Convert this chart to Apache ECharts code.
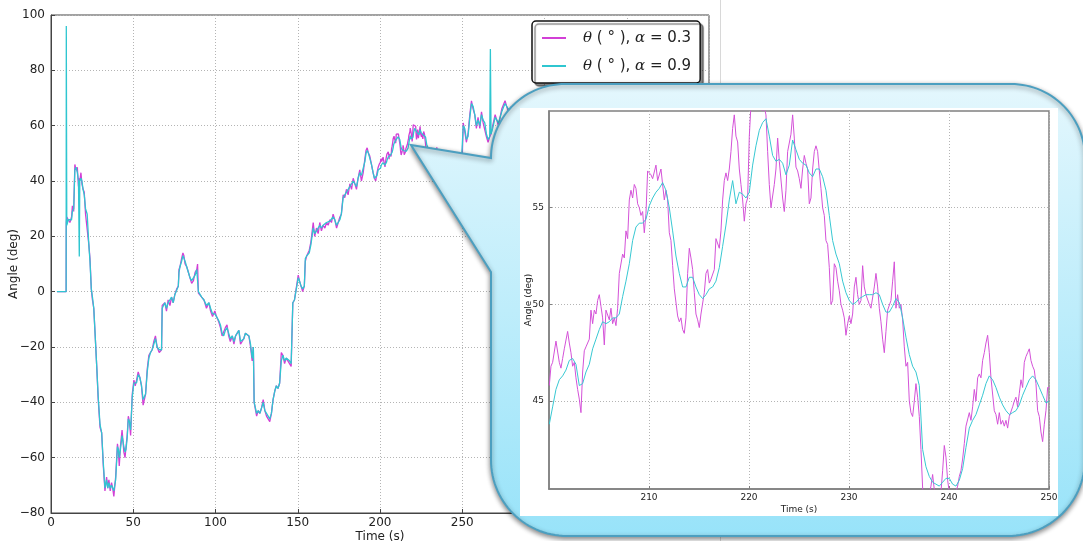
<!DOCTYPE html>
<html><head><meta charset="utf-8">
<script src="https://cdn.jsdelivr.net/npm/echarts@6/dist/echarts.min.js"></script>
<style>html,body{margin:0;padding:0;background:#fff}#c{width:1083px;height:541px}</style>
</head><body><div id="c"></div><script>
// ---------- DATA ----------
const seriesNames = ['θ (°), α = 0.3', 'θ (°), α = 0.9'];
const legendTexts = ['0.3', '0.9'];

// main chart samples (outside 200-250 s window)
const mainTime = [
  3.6, 9.2, 9.3, 9.6, 10.5, 11.5, 12.5, 13, 13.8, 14.5,
  15.2, 16, 16.7, 17.2, 17.5, 18.2, 18.8, 19.5, 20.2, 21,
  22, 23, 23.7, 24.5, 25.2, 26, 26.7, 27.8, 28.7, 29.8,
  30.8, 31.8, 32.8, 33.8, 34.5, 35.2, 36, 36.8, 37.5, 38.2,
  39.3, 40.4, 41, 41.5, 42.2, 43.2, 44.3, 45, 45.6, 46.3,
  47, 47.7, 48.4, 49.4, 50.4, 51.2, 52, 53, 54, 55,
  56, 57.5, 58.5, 59.5, 60.5, 61.5, 62.5, 63.5, 64.5, 65.8,
  67.2, 67.6, 68.4, 69.2, 70.2, 71.2, 72.3, 73.3, 74.3, 75.3,
  76.4, 77.4, 77.8, 78.4, 79.4, 80.2, 80.8, 81.5, 82.5, 83.5,
  84.5, 85.5, 86.6, 87.6, 88.6, 89.1, 89.6, 90.6, 91.6, 93,
  94.5, 96, 97, 98.2, 99.6, 100.6, 102, 103, 104, 105,
  106, 107, 108, 109, 110.2, 111.2, 112.2, 113.2, 114.2, 115.2,
  116.2, 117.2, 118.2, 119.3, 120.3, 121.3, 122.3, 123, 123.5, 125,
  126, 127, 128, 129, 130, 131, 132, 133, 134, 135,
  136, 137, 138, 139, 140, 141, 142, 143, 144, 145,
  146, 147, 148, 149, 150.3, 151, 152, 153, 154, 154.6,
  155.5, 157, 158, 159.4, 160.3, 161.4, 162.4, 163.4, 164.4, 165.4,
  166.5, 167.5, 168.5, 169.5, 170.5, 171.5, 172.5, 173.6, 174.6, 175.6,
  176.5, 177.6, 178.6, 179.6, 180.6, 181.7, 182.7, 183.7, 184.7, 185.7,
  186.7, 187.7, 188.7, 189.8, 190.8, 191.5, 192.2, 193, 193.8, 194.8,
  195.8, 196.6, 197.4, 198.2, 198.9, 199.5,
  250.4, 250.6, 251.5, 252.5, 253.5, 254.6, 255.6, 256.6, 257.6, 258.6,
  259.6, 260.7, 261.7, 262.7, 263.7, 264.7, 265.7, 266.7, 267.1, 267.5,
  268.5, 270, 272, 274, 276, 278, 280
];
const mainThetaA03 = [
  0, 0, 25, 27, 26, 25, 27, 31, 29, 46,
  44, 45, 38, 41, 40, 43, 39, 37, 36, 28,
  28, 17, 12, 1, -3, -6, -14, -27, -39, -49,
  -51, -63, -72, -67, -71, -68, -72, -69, -71, -74,
  -67, -55, -58, -63, -56, -50, -58, -60, -56, -52,
  -45, -47, -52, -37, -32, -34, -32, -29, -31, -34,
  -41, -37, -28, -23, -22, -21, -18, -16, -20, -22,
  -21, -5, -5, -4, -7, -3, -5, -2, -4, -1,
  1, 2, 8, 9, 12, 14, 13, 10, 9, 7,
  5, 3, 4, 7, 8, 10, -0.5, -1, -2, -3,
  -6, -4, -7, -9, -7, -9, -11, -13, -16, -16,
  -13, -12, -16, -18, -16, -19, -16, -15, -14, -19,
  -18, -17, -15, -15, -16, -20, -25, -20, -40, -45,
  -43, -44, -42, -39, -43, -45, -45, -47, -44, -39,
  -36, -34, -35, -33, -22, -23, -26, -24, -25, -25,
  -27, -4, -3, -3, 6, 4, 2, 0, 2, 11,
  13, 15, 18, 25, 20, 23, 21, 25, 22, 24,
  23, 25, 24, 26, 25, 28, 26, 23, 25, 27,
  28, 35, 34, 37, 35, 39, 37, 41, 39, 37,
  41, 44, 40, 43, 48, 51, 52, 50, 49, 46,
  43, 41, 40, 43, 45, 46,
  46, 61, 58, 54, 57, 64, 69, 66, 64, 59,
  63, 59, 65, 61, 61, 56, 54, 56, 56, 57,
  60, 64, 60, 66, 69, 65, 67
];
const mainThetaA09 = [
  0, 0, 96, 24, 26, 25.5, 26, 29, 30, 44,
  45, 43, 40, 12.7, 40, 41, 40, 37, 35, 30,
  28, 17, 11, 1, -2, -6, -14, -27, -38, -48,
  -51, -62, -71, -68, -71, -69, -71, -70, -71, -72,
  -68, -56, -57, -60, -57, -52, -56, -58, -57, -53,
  -46, -47, -50, -38, -33, -33, -33, -30, -31, -34,
  -39, -37, -29, -24, -22, -21, -19, -17, -20, -21,
  -21, -6, -5, -4, -6, -4, -4, -2, -4, -1,
  0.5, 2, 7, 9, 11, 13, 13, 11, 9, 7,
  5, 4, 4, 6, 8, 8.5, 0, -1, -2, -3,
  -5, -4, -6, -8, -8, -9, -10.5, -12, -15, -16,
  -14, -13, -15, -17, -16, -18, -16, -15, -14, -18,
  -18, -17, -15, -15, -16, -19, -24, -20, -40, -44,
  -43, -44, -42, -40, -43, -44, -45, -46, -44, -39,
  -36, -34, -35, -33, -25, -23, -25, -24, -24, -25,
  -26, -4, -3, -3.5, 5, 4, 2, 1, 2, 12,
  13, 14, 17, 23, 21, 22, 22, 24, 23, 24,
  23.5, 25, 24.5, 25.5, 25.5, 27, 26, 24, 25, 26,
  28, 34, 34, 36, 36, 38, 38, 40, 39, 38,
  41, 43, 42, 42, 47, 50, 51, 50, 49.5, 46,
  43, 41, 40.5, 42, 44, 44,
  46, 60, 59, 55, 56, 63, 68, 67, 64, 60,
  62, 60, 64, 62, 61, 57, 55, 56, 87.7, 57,
  59, 63, 61, 65, 68, 66, 66
];

// zoomed window 200-250 s (sampled every 1/6 s for alpha=0.3, 1/3 s for alpha=0.9)
const zoomStart = 200.03;
const zoomStepA03 = 1 / 6;
const zoomStepA09 = 1 / 3;
const zoomThetaA03 = [
  45.8, 46.8, 47.0, 47.1, 48.1, 48.0, 47.0, 46.7, 47.2, 47.7,
  47.8, 48.6, 48.0, 47.5, 46.8, 47.0, 46.2, 45.6, 45.1, 44.4,
  46.5, 47.6, 47.8, 47.9, 48.2, 49.7, 49.0, 49.7, 49.5, 50.2,
  50.5, 49.9, 49.3, 47.9, 49.7, 49.6, 49.2, 49.8, 49.0, 49.3,
  48.9, 49.8, 51.6, 51.6, 52.6, 52.4, 53.8, 53.4, 55.4, 55.9,
  55.5, 56.2, 56.0, 55.2, 55.0, 54.6, 54.8, 53.7, 54.7, 56.9,
  57.0, 56.7, 56.5, 56.6, 57.2, 56.4, 56.3, 57.0, 56.9, 55.4,
  55.9, 55.4, 53.7, 53.3, 52.0, 50.8, 50.9, 49.4, 49.1, 49.3,
  48.7, 48.5, 49.3, 51.6, 52.9, 52.4, 51.8, 50.6, 49.5, 49.2,
  48.8, 49.5, 49.6, 50.6, 51.6, 51.8, 51.1, 51.3, 51.2, 51.8,
  53.4, 53.5, 52.9, 53.8, 55.4, 56.4, 56.8, 56.4, 57.0, 57.9,
  59.1, 59.8, 58.7, 58.4, 57.0, 56.2, 55.4, 54.3, 55.2, 55.5,
  58.7, 60.3, 61.0, 61.2, 61.0, 60.8, 60.6, 60.2, 60.0, 60.2,
  59.8, 57.9, 56.2, 55.0, 55.1, 56.2, 57.0, 58.6, 57.4,
  57.4, 55.5, 54.8, 55.9, 57.9, 58.0, 58.8, 59.8, 58.6, 57.1,
  56.9, 56.5, 56.0, 57.0, 57.7, 57.3, 57.0, 55.2, 55.5, 57.0,
  57.9, 58.2, 57.9, 56.9, 56.0, 55.0, 54.6, 53.3, 53.1, 51.9,
  50.0, 50.2, 52.1, 51.9, 51.2, 50.7, 50.0, 49.7, 49.3, 48.4,
  49.0, 49.4, 49.0, 49.5, 50.9, 51.4, 50.5, 50.0, 50.2, 52.0,
  50.9, 50.5, 50.5, 50.0, 49.8, 49.7, 50.9, 51.6, 50.9, 49.8,
  49.1, 48.2, 47.5, 48.6, 49.7, 49.8, 50.2, 51.2, 52.2, 49.8,
  50.5, 49.8, 50.0, 49.2, 47.8, 46.8, 47.0, 45.0, 44.4, 44.2,
  45.0, 45.9, 45.2, 44.2, 42.5, 40.5, 39.8, 39.5, 39.8, 40.2,
  40.6, 41.2, 40.4, 39.8, 39.4, 39.6, 40.3, 41.4, 42.7, 42.1,
  40.9, 40.3, 39.9, 39.8, 40.0, 40.3, 40.6, 41.1, 41.4, 42.0,
  42.8, 43.7, 43.8, 44.4, 44.0, 44.7, 45.6, 45.0, 46.2, 46.4,
  46.2, 47.1, 47.5, 48.0, 48.4, 47.5, 46.2, 46.1, 44.5, 44.3,
  43.8, 44.4, 43.8, 44.0, 43.7, 44.0, 43.6, 44.2, 44.3, 44.7,
  45.0, 45.2, 44.7, 45.4, 46.1, 45.7, 47.0, 47.3, 47.5, 47.7,
  47.1, 46.8, 46.6, 45.9, 44.5, 44.2, 43.4, 42.9, 43.8, 44.5,
  45.7, 45.7
];
const zoomThetaA09 = [
  43.8, 44.7, 45.6, 46.1, 46.3, 46.6, 47.1, 47.2, 46.9, 45.8,
  45.9, 46.5, 46.9, 47.7, 48.2, 48.7, 49.1, 49.0, 49.1, 49.3,
  49.3, 49.5, 50.4, 51.2, 52.1, 53.3, 54.0, 54.2, 54.2, 54.4,
  55.1, 55.5, 55.8, 56.0, 56.3, 55.9, 55.0, 53.8, 52.5, 51.6,
  50.9, 50.9, 51.4, 51.4, 50.9, 50.5, 50.3, 50.5, 50.8, 50.9,
  51.2, 51.9, 53.0, 54.1, 55.4, 56.4, 55.2, 55.8, 55.7, 55.5,
  55.8, 57.2, 58.2, 59.0, 59.4, 59.6, 58.7, 57.7, 57.4, 57.5,
  57.3, 56.7, 57.2, 58.5, 58.0, 57.5, 57.3, 57.2, 56.8, 56.6,
  57.0, 57.0, 56.6, 55.9, 54.6, 53.3, 52.6, 52.1, 51.2, 50.6,
  50.2, 50.0, 50.1, 50.3, 50.4, 50.5, 50.5, 50.5, 50.6, 50.5,
  50.0, 49.6, 49.6, 49.9, 50.3, 50.1, 49.3, 48.3, 47.4, 46.8,
  46.5, 45.8, 42.5, 41.6, 41.1, 40.8, 40.7, 40.6, 40.8, 41.0,
  41.0, 40.7, 40.6, 40.9, 41.5, 42.6, 43.6, 44.0, 44.3, 44.8,
  45.3, 45.9, 46.3, 46.1, 45.7, 45.2, 44.8, 44.5, 44.3, 44.4,
  44.5, 44.8, 45.3, 45.7, 46.1, 46.3, 46.1, 45.7, 45.3, 44.9,
  45.0
];

// tick labels
const mainXTicks = [0, 50, 100, 150, 200, 250, 300, 350, 400];
const mainYTicks = [-80, -60, -40, -20, 0, 20, 40, 60, 80, 100];
const insetXTicks = [210, 220, 230, 240, 250];
const insetYTicks = [45, 50, 55];

// ---------- BUILD ----------
const colA03 = '#d23fd6';
const colA09 = '#2fc6d0';
const toPairs = (ts, vs) => ts.map((t, i) => [t, vs[i]]);
const zoomTimeA03 = zoomThetaA03.map((_, i) => zoomStart + i * zoomStepA03);
const zoomTimeA09 = zoomThetaA09.map((_, i) => zoomStart + i * zoomStepA09);
const zA03 = toPairs(zoomTimeA03, zoomThetaA03);
const zA09 = toPairs(zoomTimeA09, zoomThetaA09);
const mA03 = toPairs(mainTime, mainThetaA03);
const mA09 = toPairs(mainTime, mainThetaA09);
const fullA03 = mA03.filter(p => p[0] < 200).concat(zA03, mA03.filter(p => p[0] > 250));
const fullA09 = mA09.filter(p => p[0] < 200).concat(zA09, mA09.filter(p => p[0] > 250));

const minus = v => String(v).replace('-', '\u2212');
const FONT = 'DejaVu Sans';

function arc(cx, cy, r, a0, a1, n) {
  const pts = [];
  for (let i = 0; i <= n; i++) {
    const a = (a0 + (a1 - a0) * i / n) * Math.PI / 180;
    pts.push([cx + r * Math.cos(a), cy + r * Math.sin(a)]);
  }
  return pts;
}
const calloutPts = [[411, 145]].concat(
  arc(565, 158, 74, 180, 270, 30),
  arc(1011, 158, 74, 270, 360, 30),
  arc(1008, 459, 77, 0, 90, 30),
  arc(567, 460, 76, 90, 180, 30),
  [[491, 272]]
);

const chart = echarts.init(document.getElementById('c'), null, {renderer: 'canvas'});
const dotted = {show: true, lineStyle: {color: '#b4b4b4', type: [1, 2], width: 1}};

chart.setOption({
  animation: false,
  backgroundColor: '#fff',
  textStyle: {fontFamily: FONT},
  grid: [
    {left: 51, top: 15, width: 658, height: 498, show: true, borderColor: '#444', borderWidth: 1,
      backgroundColor: 'transparent', containLabel: false, outerBoundsMode: 'none'},
    {left: 549, top: 111, width: 500, height: 378, show: true, borderColor: '#808080', borderWidth: 1.5,
      backgroundColor: 'transparent', z: 60, containLabel: false, outerBoundsMode: 'none'}
  ],
  xAxis: [
    {type: 'value', gridIndex: 0, min: 0, max: 400, interval: 50,
      name: 'Time (s)', nameLocation: 'middle', nameGap: 18, nameMoveOverlap: false,
      nameTextStyle: {fontSize: 12, color: '#222', fontFamily: FONT},
      axisLine: {show: true, onZero: false, lineStyle: {color: '#444'}},
      axisTick: {show: true, inside: true, length: 4, lineStyle: {color: '#444'}},
      axisLabel: {fontSize: 12, color: '#222', margin: 4, fontFamily: FONT, formatter: minus},
      splitLine: dotted},
    {type: 'value', gridIndex: 1, min: 200, max: 250, z: 60,
      name: 'Time (s)', nameLocation: 'middle', nameGap: 16, nameMoveOverlap: false,
      nameTextStyle: {fontSize: 9, color: '#222', fontFamily: FONT},
      axisLine: {show: true, onZero: false, lineStyle: {color: '#808080', width: 1.5}},
      axisTick: {show: true, inside: true, length: 3, customValues: insetXTicks, lineStyle: {color: '#808080'}},
      axisLabel: {fontSize: 9, color: '#222', margin: 4, fontFamily: FONT, customValues: insetXTicks},
      splitLine: dotted}
  ],
  yAxis: [
    {type: 'value', gridIndex: 0, min: -80, max: 100, interval: 20,
      name: 'Angle (deg)', nameLocation: 'middle', nameGap: 31, nameRotate: 90, nameMoveOverlap: false,
      nameTextStyle: {fontSize: 12, color: '#222', fontFamily: FONT},
      axisLine: {show: true, onZero: false, lineStyle: {color: '#444'}},
      axisTick: {show: true, inside: true, length: 4, lineStyle: {color: '#444'}},
      axisLabel: {fontSize: 12, color: '#222', margin: 6, fontFamily: FONT, formatter: minus},
      splitLine: dotted},
    {type: 'value', gridIndex: 1, min: 40.45, max: 60, z: 60,
      name: 'Angle (deg)', nameLocation: 'middle', nameGap: 16, nameRotate: 90, nameMoveOverlap: false,
      nameTextStyle: {fontSize: 9, color: '#222', fontFamily: FONT},
      axisLine: {show: true, onZero: false, lineStyle: {color: '#808080', width: 1.5}},
      axisTick: {show: true, inside: true, length: 3, customValues: insetYTicks, lineStyle: {color: '#808080'}},
      axisLabel: {fontSize: 9, color: '#222', margin: 5, fontFamily: FONT, customValues: insetYTicks},
      splitLine: dotted}
  ],
  legend: {
    orient: 'vertical', left: 532, top: 21, padding: [8, 9, 8, 10], itemGap: 10,
    itemWidth: 24, itemHeight: 2, icon: 'rect',
    backgroundColor: '#fff', borderColor: '#111', borderWidth: 1.5, borderRadius: 4,
    shadowColor: 'rgba(0,0,0,0.45)', shadowBlur: 1, shadowOffsetX: 3, shadowOffsetY: 3,
    data: seriesNames,
    formatter: name => '{g|}{i|θ} ( ° ), {i|α} = ' + legendTexts[seriesNames.indexOf(name)],
    textStyle: {fontSize: 15, color: '#222', fontFamily: FONT, lineHeight: 18,
      rich: {g: {width: 12}, i: {fontStyle: 'italic', fontSize: 15, fontFamily: 'DejaVu Serif', color: '#222'}}}
  },
  graphic: [
    {type: 'line', shape: {x1: 720.5, y1: 0, x2: 720.5, y2: 541}, style: {stroke: '#d8d8d8', lineWidth: 1}, z: 1},
    {type: 'polygon', shape: {points: calloutPts}, z: 50,
      style: {
        fill: new echarts.graphic.LinearGradient(0, 0, 0, 1, [
          {offset: 0, color: '#e4f7fd'}, {offset: 1, color: '#98e3f9'}]),
        stroke: '#4c9fc0', lineWidth: 2,
        shadowBlur: 5, shadowColor: 'rgba(0,0,0,0.45)', shadowOffsetY: 2
      }},
    {type: 'rect', shape: {x: 520, y: 108, width: 538, height: 408}, style: {fill: '#fff'}, z: 51}
  ],
  series: [
    {name: seriesNames[0], type: 'line', xAxisIndex: 0, yAxisIndex: 0, data: fullA03, color: colA03,
      showSymbol: false, symbol: 'none', lineStyle: {width: 1.3, color: colA03}, z: 2},
    {name: seriesNames[1], type: 'line', xAxisIndex: 0, yAxisIndex: 0, data: fullA09, color: colA09,
      showSymbol: false, symbol: 'none', lineStyle: {width: 1.3, color: colA09}, z: 3},
    {name: seriesNames[0], type: 'line', xAxisIndex: 1, yAxisIndex: 1, data: zA03, color: colA03,
      showSymbol: false, symbol: 'none', lineStyle: {width: 1, color: '#d452d8'}, z: 62},
    {name: seriesNames[1], type: 'line', xAxisIndex: 1, yAxisIndex: 1, data: zA09, color: colA09,
      showSymbol: false, symbol: 'none', lineStyle: {width: 1, color: '#38c8d2'}, z: 63}
  ]
});
</script></body></html>
